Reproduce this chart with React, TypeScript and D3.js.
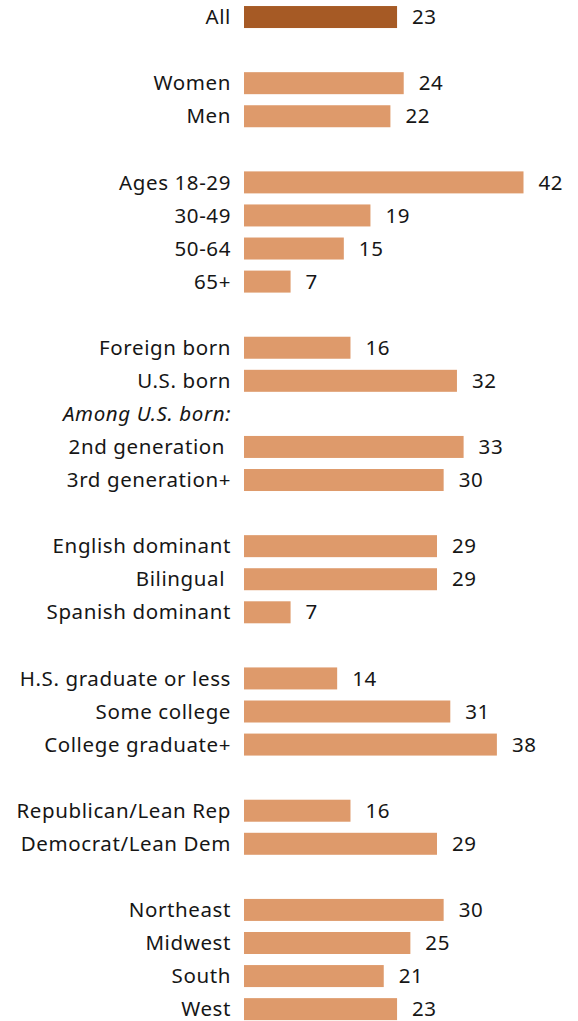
import React from "react";
import * as d3 from "d3";

const categories: string[] = [
  "All", "", "Women", "Men", "", "Ages 18-29", "30-49", "50-64", "65+", "",
  "Foreign born", "U.S. born", "Among U.S. born:", "2nd generation\u00a0", "3rd generation+", "",
  "English dominant", "Bilingual\u00a0", "Spanish dominant", "",
  "H.S. graduate or less", "Some college", "College graduate+", "",
  "Republican/Lean Rep", "Democrat/Lean Dem", "",
  "Northeast", "Midwest", "South", "West",
];
const values: (number | null)[] = [
  23, null, 24, 22, null, 42, 19, 15, 7, null,
  16, 32, null, 33, 30, null,
  29, 29, 7, null,
  14, 31, 38, null,
  16, 29, null,
  30, 25, 21, 23,
];
const italicRows: string[] = ["Among U.S. born:"];
const highlightRows: string[] = ["All"];

const W = 578;
const H = 1021;

export default function App() {
  const idx = categories.map((_, i) => String(i));
  const y = d3.scaleBand<string>().domain(idx).range([0.5, 0.5 + 33.07 * categories.length]).paddingInner(0.32).paddingOuter(0.16);
  const x = d3.scaleLinear().domain([0, 42]).range([244, 523.5]);
  const font = "'Noto Sans', 'Open Sans', sans-serif";
  const fs = 20.5;
  return (
    <svg width={W} height={H} style={{ position: "absolute", left: 0, top: 0, background: "#fff" }} fontFamily={font}>
      {categories.map((c, i) => {
        const v = values[i];
        const band = y(String(i))!;
        const cy = band + y.bandwidth() / 2;
        return (
          <g key={i}>
            {c && (
              <text x={231} y={cy} dy="0.35em" textAnchor="end" fontSize={fs} fill="#161616" fontWeight={375}
                letterSpacing={0.6}
                fontStyle={italicRows.includes(c) ? "italic" : "normal"}>{c}</text>
            )}
            {v != null && (
              <>
                <rect x={x(0)} y={cy - 11} width={x(v) - x(0)} height={22}
                  fill={highlightRows.includes(c) ? "#A65A25" : "#DE9A6B"} />
                <text x={x(v) + 15} y={cy} dy="0.35em" fontSize={fs} fill="#161616" fontWeight={375}
                  letterSpacing={0.6}>{v}</text>
              </>
            )}
          </g>
        );
      })}
    </svg>
  );
}
